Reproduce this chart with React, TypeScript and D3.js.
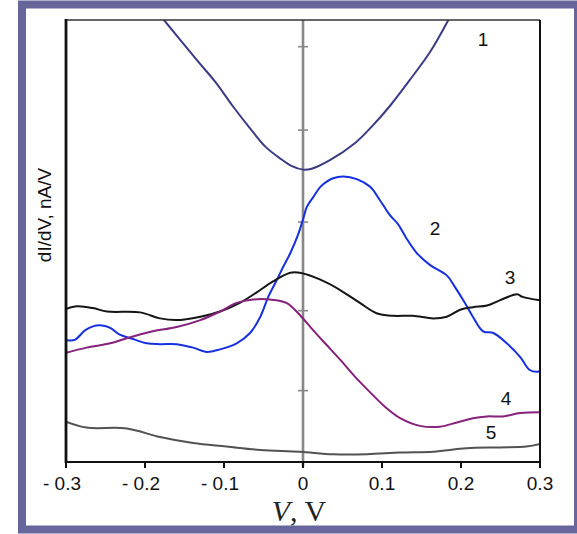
import React from 'react';
import * as d3 from 'd3';

// Bias voltage axis (V) and its labels
const biasTicks = [-0.3, -0.2, -0.1, 0, 0.1, 0.2, 0.3];
const biasTickLabels = ['- 0.3', '- 0.2', '- 0.1', '0', '0.1', '0.2', '0.3'];
// Unlabelled conductance tick marks on the zero-bias line (arb. units)
const conductanceTicks = [1, 1.93, 2.96, 4.03, 5];

// dI/dV spectra: [V, dI/dV]
const curve1: [number, number][] = [
  [-0.197, 5.54], [-0.176, 5.31], [-0.134, 4.84], [-0.111, 4.59], [-0.089, 4.31],
  [-0.067, 4.05], [-0.048, 3.84], [-0.029, 3.7], [-0.014, 3.61], [0.0, 3.57],
  [0.011, 3.58], [0.034, 3.68], [0.066, 3.88], [0.087, 4.07], [0.11, 4.31],
  [0.135, 4.61], [0.161, 4.94], [0.184, 5.31], [0.197, 5.54],
];
const curve2: [number, number][] = [
  [-0.3, 1.59], [-0.289, 1.59], [-0.276, 1.7], [-0.265, 1.75], [-0.257, 1.76],
  [-0.244, 1.73], [-0.232, 1.65], [-0.215, 1.6], [-0.198, 1.55], [-0.181, 1.54],
  [-0.16, 1.54], [-0.139, 1.5], [-0.122, 1.45], [-0.105, 1.48], [-0.084, 1.55],
  [-0.067, 1.67], [-0.054, 1.86], [-0.044, 2.09], [-0.033, 2.29], [-0.025, 2.44],
  [-0.016, 2.6], [-0.006, 2.82], [0.0, 2.99], [0.005, 3.14], [0.013, 3.25],
  [0.022, 3.37], [0.03, 3.43], [0.038, 3.47], [0.051, 3.49], [0.068, 3.46],
  [0.085, 3.37], [0.097, 3.22], [0.11, 3.04], [0.12, 2.94], [0.131, 2.77],
  [0.144, 2.6], [0.161, 2.46], [0.182, 2.34], [0.192, 2.21], [0.205, 2.02],
  [0.215, 1.86], [0.228, 1.69], [0.241, 1.67], [0.258, 1.55], [0.275, 1.39],
  [0.287, 1.24], [0.297, 1.22], [0.3, 1.23],
];
const curve3: [number, number][] = [
  [-0.3, 1.95], [-0.286, 1.98], [-0.266, 1.96], [-0.248, 1.92], [-0.206, 1.91],
  [-0.181, 1.84], [-0.16, 1.82], [-0.13, 1.86], [-0.105, 1.92], [-0.08, 2.02],
  [-0.059, 2.14], [-0.038, 2.27], [-0.016, 2.37], [-0.004, 2.37], [0.022, 2.29],
  [0.047, 2.17], [0.072, 2.02], [0.093, 1.9], [0.114, 1.87], [0.139, 1.87],
  [0.165, 1.84], [0.182, 1.86], [0.199, 1.94], [0.215, 1.97], [0.233, 1.99],
  [0.249, 2.05], [0.271, 2.12], [0.278, 2.09], [0.3, 2.05],
];
const curve4: [number, number][] = [
  [-0.3, 1.44], [-0.274, 1.5], [-0.244, 1.55], [-0.223, 1.61], [-0.19, 1.69],
  [-0.16, 1.74], [-0.13, 1.82], [-0.105, 1.92], [-0.084, 2.02], [-0.063, 2.06],
  [-0.042, 2.06], [-0.021, 2.02], [-0.004, 1.88], [0.013, 1.7], [0.03, 1.53],
  [0.047, 1.36], [0.066, 1.16], [0.085, 0.98], [0.104, 0.81], [0.123, 0.68],
  [0.148, 0.59], [0.173, 0.58], [0.195, 0.63], [0.215, 0.68], [0.233, 0.7],
  [0.253, 0.7], [0.275, 0.74], [0.3, 0.75],
];
const curve5: [number, number][] = [
  [-0.3, 0.64], [-0.274, 0.57], [-0.223, 0.56], [-0.181, 0.46], [-0.139, 0.39],
  [-0.097, 0.35], [-0.054, 0.31], [-0.004, 0.29], [0.038, 0.26], [0.081, 0.26],
  [0.123, 0.28], [0.165, 0.29], [0.207, 0.33], [0.249, 0.34], [0.283, 0.35],
  [0.3, 0.38],
];

const curveNames = ['1', '2', '3', '4', '5'];
// Where each curve number sits, in data coordinates [V, dI/dV]
const curveLabelAt: [number, number][] = [
  [0.228, 5.09], [0.167, 2.89], [0.262, 2.32], [0.257, 0.91], [0.238, 0.52],
];

const W = 577;
const H = 534;
const plot = { left: 66, right: 540, top: 20, bottom: 462 };
const sans = '"Liberation Sans", Arial, Helvetica, sans-serif';
const serif = '"Liberation Serif", "Times New Roman", Times, serif';

export default function App() {
  const x = d3.scaleLinear().domain([-0.3, 0.3]).range([plot.left, plot.right]);
  const y = d3.scaleLinear().domain([0.17, 5.31]).range([plot.bottom, plot.top]);
  const line = d3
    .line<[number, number]>()
    .x((d) => x(d[0]))
    .y((d) => y(d[1]))
    .curve(d3.curveCatmullRom.alpha(0.5));

  const series = [
    { data: curve1, color: '#3b3b84' },
    { data: curve2, color: '#1630e0' },
    { data: curve3, color: '#151515' },
    { data: curve4, color: '#86217c' },
    { data: curve5, color: '#525252' },
  ];

  const x0 = x(0);

  return (
    <svg
      width={W}
      height={H}
      viewBox={`0 0 ${W} ${H}`}
      style={{ position: 'absolute', left: 0, top: 0, background: '#fff' }}
    >
      <defs>
        <clipPath id="plotClip">
          <rect x={plot.left} y={plot.top} width={plot.right - plot.left} height={plot.bottom - plot.top} />
        </clipPath>
      </defs>

      {/* outer frame */}
      <rect x={22} y={4.5} width={556} height={525} fill="#fff" stroke="#66669a" strokeWidth={8} />

      {/* zero-bias line with its tick marks */}
      <line x1={x0} x2={x0} y1={plot.top} y2={plot.bottom + 5} stroke="#888" strokeWidth={2.6} />
      {conductanceTicks.map((t) => (
        <line key={t} x1={x0 - 5} x2={x0 + 5} y1={y(t)} y2={y(t)} stroke="#888" strokeWidth={1.6} />
      ))}

      {/* spectra */}
      <g clipPath="url(#plotClip)" fill="none" strokeLinejoin="round" strokeLinecap="round">
        {series.map((s, i) => (
          <path key={i} d={line(s.data) ?? ''} stroke={s.color} strokeWidth={2} />
        ))}
      </g>

      {/* plot box */}
      <line x1={plot.left} x2={plot.right} y1={plot.top} y2={plot.top} stroke="#333" strokeWidth={1.4} />
      <line x1={plot.right} x2={plot.right} y1={plot.top} y2={plot.bottom} stroke="#111" strokeWidth={2} />
      <line x1={plot.left} x2={plot.left} y1={plot.top - 1} y2={plot.bottom + 1} stroke="#111" strokeWidth={2.8} />
      <line x1={plot.left} x2={plot.right + 1} y1={plot.bottom} y2={plot.bottom} stroke="#111" strokeWidth={2} />

      {/* bias axis ticks and labels */}
      {biasTicks.map((t, i) => (
        <g key={t}>
          <line x1={x(t)} x2={x(t)} y1={plot.bottom} y2={plot.bottom + 6} stroke="#111" strokeWidth={2} />
          <text
            x={x(t) + (t < 0 ? -4 : 0)}
            y={490}
            textAnchor="middle"
            fontFamily={sans}
            fontSize={19}
            fill="#111"
          >
            {biasTickLabels[i]}
          </text>
        </g>
      ))}

      {/* axis titles */}
      <text x={x0 - 4} y={521} textAnchor="middle" fontFamily={serif} fontSize={30} fill="#222">
        <tspan fontStyle="italic">V</tspan>
        <tspan>, V</tspan>
      </text>
      <text
        transform={`translate(51, 215) rotate(-90)`}
        textAnchor="middle"
        fontFamily={sans}
        fontSize={19}
        fill="#111"
      >
        dI/dV, nA/V
      </text>

      {/* curve numbers */}
      {curveNames.map((n, i) => (
        <text
          key={n}
          x={x(curveLabelAt[i][0])}
          y={y(curveLabelAt[i][1])}
          dy="0.36em"
          textAnchor="middle"
          fontFamily={sans}
          fontSize={19}
          fill="#111"
        >
          {n}
        </text>
      ))}
    </svg>
  );
}
